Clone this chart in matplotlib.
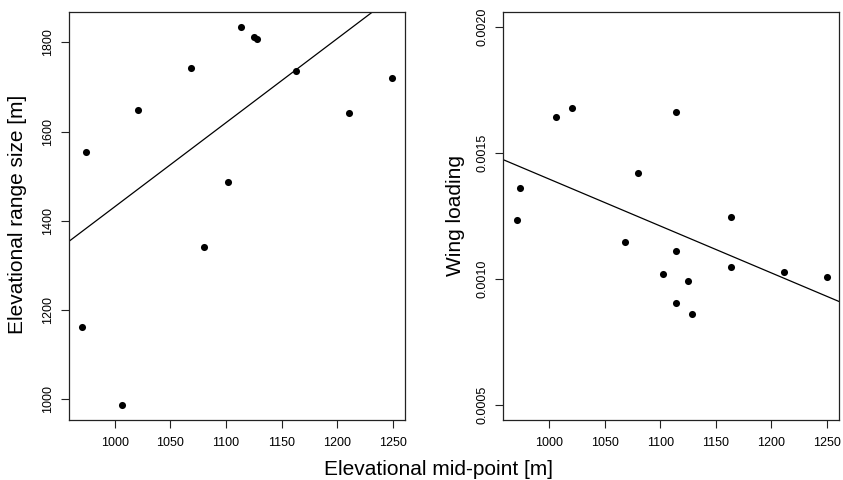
import matplotlib
matplotlib.use("Agg")
import matplotlib.pyplot as plt
import numpy as np

plt.rcParams['font.family'] = ['Liberation Sans', 'DejaVu Sans']

# Left panel: elevational mid-point vs elevational range size
mid_left = [970.8, 973.7, 1006.2, 1020.6, 1068.2, 1079.8, 1101.9, 1113.8,
            1124.8, 1127.9, 1163.3, 1210.4, 1249.5]
range_size = [1162, 1554, 987, 1648, 1743, 1342, 1486, 1835,
              1812, 1807, 1736, 1642, 1720]
fit_left = (-451.4, 1.883)  # intercept, slope

# Right panel: elevational mid-point vs wing loading
mid_right = [970.8, 973.7, 1006.3, 1021.0, 1068.5, 1079.8, 1102.2, 1114.2,
             1114.2, 1114.2, 1125.2, 1128.1, 1163.7, 1163.7, 1210.9, 1250.0]
wing_loading = [0.001233, 0.001360, 0.001642, 0.001676, 0.001148, 0.001421,
                0.001020, 0.001664, 0.001112, 0.000906, 0.000993, 0.000861,
                0.001245, 0.001046, 0.001028, 0.001007]
fit_right = (0.003259, -1.863e-6)

xticks = [1000, 1050, 1100, 1150, 1200, 1250]
yticks_left = [1000, 1200, 1400, 1600, 1800]
yticks_right = [0.0005, 0.0010, 0.0015, 0.0020]
yticklabels_right = ["0.0005", "0.0010", "0.0015", "0.0020"]

fig = plt.figure(figsize=(8.43, 4.8), dpi=100)
axL = fig.add_axes([69/843, 1-420/480, (405-69)/843, (420-12)/480])
axR = fig.add_axes([503.3/843, 1-420/480, (839.3-503.3)/843, (420-11.7)/480])

def style(ax):
    for s in ax.spines.values():
        s.set_linewidth(0.9)
        s.set_color('#222222')
    ax.tick_params(direction='out', length=6, width=0.8, color='#222222',
                   labelsize=9, pad=6)
    ax.tick_params(axis='y', pad=5)
    for lab in ax.get_yticklabels():
        lab.set_rotation(90)
        lab.set_va('center')

xlim = (958.8, 1261.0)

axL.scatter(mid_left, range_size, s=26, color='black', zorder=3, linewidths=0)
xx = np.array(xlim)
axL.plot(xx, fit_left[0] + fit_left[1]*xx, color='black', lw=0.9)
axL.set_xlim(*xlim)
axL.set_ylim(953.6, 1867.9)
axL.set_xticks(xticks)
axL.set_xticklabels([str(t) for t in xticks])
axL.set_yticks(yticks_left)
axL.set_yticklabels([str(t) for t in yticks_left])
style(axL)

axR.scatter(mid_right, wing_loading, s=26, color='black', zorder=3, linewidths=0)
axR.plot(xx, fit_right[0] + fit_right[1]*xx, color='black', lw=0.9)
axR.set_xlim(*xlim)
axR.set_ylim(0.00044, 0.00206)
axR.set_xticks(xticks)
axR.set_xticklabels([str(t) for t in xticks])
axR.set_yticks(yticks_right)
axR.set_yticklabels(yticklabels_right)
style(axR)

fig.text(18/843, 1-214/480, "Elevational range size [m]", rotation=90,
         ha='center', va='center', fontsize=15)
fig.text(455/843, 1-216/480, "Wing loading", rotation=90,
         ha='center', va='center', fontsize=15)
fig.text(438/843, 1-475/480, "Elevational mid-point [m]", ha='center',
         va='baseline', fontsize=15)

fig.savefig("out.png", dpi=100)
